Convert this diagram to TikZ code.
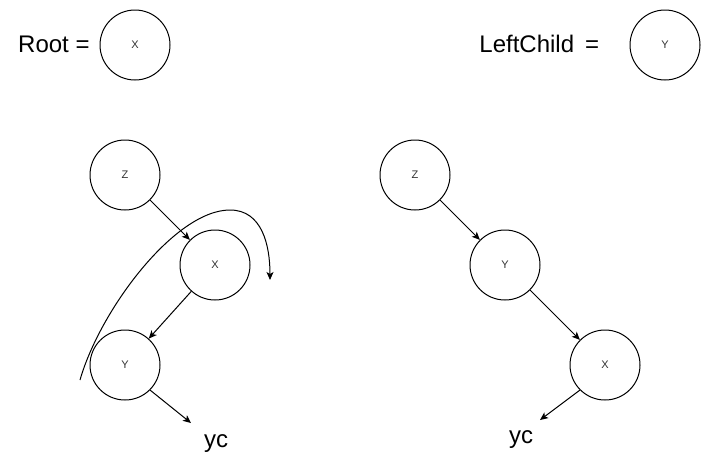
\documentclass[tikz,border=0pt]{standalone}
\usepackage{fontspec}
\setmainfont{Liberation Sans}
\usetikzlibrary{arrows.meta}
\definecolor{lbl}{HTML}{333333}
\tikzset{
  circ/.style={circle,draw=black,line width=1pt,minimum size=70pt,inner sep=0pt,
    font=\fontsize{11}{13}\selectfont,text=lbl},
  big/.style={inner sep=0pt,font=\fontsize{24}{28}\selectfont},
  arr/.style={line width=1pt,-{Stealth[length=8pt,width=7pt,inset=2pt]}},
}
\begin{document}
\begin{tikzpicture}[x=1pt,y=-1pt]
\useasboundingbox (0,0) rectangle (711,466);
% header
\node[big,anchor=base west] (roottxt) at (18,52.7) {Root =};
\node[circ] (rootc) at (135,45) {X};
\node[big,anchor=base west] (lctxt) at (479.2,52.7) {LeftChild\hspace{11pt}=};
\node[circ] (lcc) at (665,45) {Y};
% left tree
\node[circ] (lz) at (125,175) {Z};
\node[circ] (lx) at (215,265) {X};
\node[circ] (ly) at (125,365) {Y};
\coordinate (lt) at (191,423);
\node[big] (lyc) at (216,444) {yc};
\draw[arr] (lz) -- (lx);
\draw[arr] (lx) -- (ly);
\draw[arr] (ly.south east) -- (lt);
% rotation curve
\coordinate (cs) at (80,380);
\coordinate (ctop) at (230,210);
\coordinate (ce) at (270,280);
\draw[arr] (cs) .. controls (100,310) and (175,210) .. (ctop)
                .. controls (262,210) and (270,245) .. (ce);
% right tree
\node[circ] (rz) at (415,175) {Z};
\node[circ] (ry) at (505,265) {Y};
\node[circ] (rx) at (605,365) {X};
\coordinate (rt) at (540,420);
\node[big] (ryc) at (521,440) {yc};
\draw[arr] (rz) -- (ry);
\draw[arr] (ry) -- (rx);
\draw[arr] (rx.south west) -- (rt);
\end{tikzpicture}
\end{document}
